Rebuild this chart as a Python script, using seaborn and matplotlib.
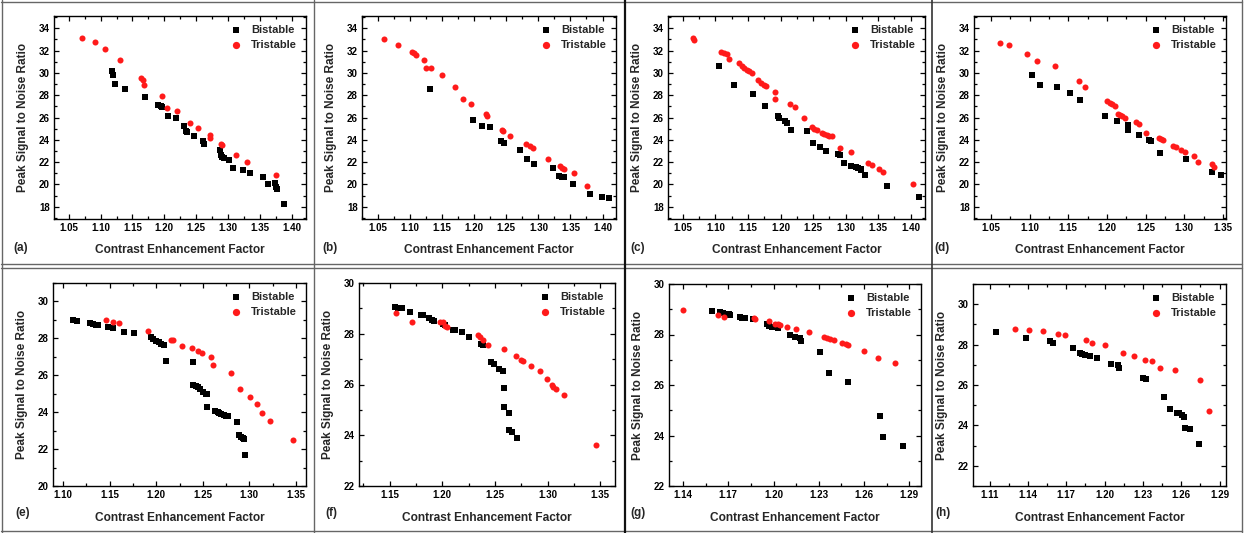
import numpy as np
import pandas as pd
import matplotlib
matplotlib.use("Agg")
import matplotlib.pyplot as plt
from matplotlib.lines import Line2D
from matplotlib.ticker import MultipleLocator
import seaborn as sns

sns.set_theme(style="ticks")
plt.rcParams["font.family"] = ["Liberation Sans", "DejaVu Sans"]
plt.rcParams["font.weight"] = "bold"

# ---- data: (Contrast Enhancement Factor, Peak Signal to Noise Ratio) ----
a_bi_x = [1.118, 1.120, 1.122, 1.139, 1.170, 1.190, 1.194, 1.196, 1.206, 1.218, 1.231, 1.234, 1.236,
          1.246, 1.260, 1.262, 1.287, 1.288, 1.290, 1.293, 1.301, 1.308, 1.324, 1.334, 1.354, 1.362,
          1.373, 1.375, 1.377, 1.387]
a_bi_y = [30.15, 29.85, 29.0, 28.6, 27.85, 27.1, 27.0, 26.9, 26.15, 26.0, 25.2, 24.8, 24.7,
          24.35, 23.85, 23.6, 23.05, 22.6, 22.5, 22.4, 22.2, 21.5, 21.3, 21.0, 20.7, 20.0,
          20.1, 19.75, 19.55, 18.25]
a_tri_x = [1.071, 1.091, 1.107, 1.131, 1.163, 1.166, 1.168, 1.197, 1.204, 1.220, 1.240, 1.253,
           1.271, 1.272, 1.288, 1.291, 1.313, 1.330, 1.375]
a_tri_y = [33.1, 32.75, 32.1, 31.2, 29.55, 29.4, 28.9, 27.9, 26.85, 26.6, 25.55, 25.05,
           24.45, 24.15, 23.6, 23.5, 22.65, 22.0, 20.85]

b_bi_x = [1.131, 1.198, 1.212, 1.224, 1.242, 1.247, 1.271, 1.283, 1.293, 1.323, 1.332, 1.337,
          1.340, 1.354, 1.380, 1.399, 1.410]
b_bi_y = [28.55, 25.8, 25.2, 25.15, 23.85, 23.75, 23.1, 22.3, 21.8, 21.45, 20.75, 20.7,
          20.65, 20.0, 19.1, 18.9, 18.75]
b_tri_x = [1.060, 1.081, 1.103, 1.106, 1.109, 1.122, 1.125, 1.133, 1.150, 1.170, 1.182, 1.195,
           1.218, 1.220, 1.244, 1.245, 1.255, 1.281, 1.287, 1.291, 1.315, 1.333, 1.337, 1.340,
           1.356, 1.376]
b_tri_y = [33.05, 32.5, 31.9, 31.75, 31.6, 31.15, 30.45, 30.4, 29.8, 28.75, 27.65, 27.2,
           26.3, 26.15, 24.9, 24.75, 24.35, 23.6, 23.45, 23.3, 22.3, 21.65, 21.5, 21.4,
           21.0, 19.9]

c_bi_x = [1.105, 1.128, 1.157, 1.176, 1.196, 1.198, 1.207, 1.210, 1.216, 1.240, 1.250, 1.260,
          1.270, 1.288, 1.292, 1.297, 1.308, 1.316, 1.319, 1.323, 1.324, 1.330, 1.363, 1.413]
c_bi_y = [30.6, 28.9, 28.15, 27.05, 26.15, 26.0, 25.65, 25.55, 24.9, 24.8, 23.75, 23.4,
          23.0, 22.7, 22.6, 21.9, 21.65, 21.55, 21.5, 21.4, 21.25, 20.85, 19.9, 18.9]
c_tri_x = [1.065, 1.067, 1.109, 1.113, 1.117, 1.121, 1.136, 1.140, 1.144, 1.149, 1.152, 1.156,
           1.166, 1.170, 1.174, 1.177, 1.191, 1.191, 1.214, 1.222, 1.236, 1.249, 1.252, 1.256,
           1.263, 1.267, 1.271, 1.275, 1.279, 1.292, 1.308, 1.335, 1.341, 1.352, 1.358, 1.404]
c_tri_y = [33.1, 32.95, 31.85, 31.8, 31.7, 31.25, 30.85, 30.6, 30.45, 30.25, 30.15, 29.95,
           29.35, 29.05, 28.9, 28.8, 28.3, 27.65, 27.2, 26.95, 26.0, 25.15, 25.0, 24.9,
           24.65, 24.5, 24.4, 24.3, 24.3, 23.3, 22.95, 21.9, 21.75, 21.4, 21.15, 20.0]

d_bi_x = [1.103, 1.113, 1.135, 1.152, 1.165, 1.197, 1.213, 1.227, 1.227, 1.242, 1.254, 1.257,
          1.269, 1.302, 1.336, 1.347]
d_bi_y = [29.85, 28.9, 28.75, 28.2, 27.6, 26.1, 25.7, 25.3, 24.85, 24.4, 23.95, 23.85,
          22.8, 22.3, 21.1, 20.85]
d_tri_x = [1.062, 1.073, 1.096, 1.110, 1.133, 1.164, 1.172, 1.200, 1.204, 1.207, 1.210, 1.214,
           1.217, 1.220, 1.223, 1.237, 1.241, 1.251, 1.267, 1.270, 1.273, 1.285, 1.289, 1.296,
           1.301, 1.313, 1.318, 1.336, 1.338]
d_tri_y = [32.65, 32.47, 31.7, 31.07, 30.6, 29.3, 28.7, 27.45, 27.3, 27.2, 27.0, 26.35,
           26.2, 26.13, 26.0, 25.6, 25.4, 24.65, 24.15, 24.1, 23.95, 23.45, 23.4, 23.05,
           22.95, 22.55, 22.05, 21.8, 21.55]

e_bi_x = [1.110, 1.115, 1.129, 1.132, 1.135, 1.137, 1.148, 1.154, 1.165, 1.176, 1.194, 1.197,
          1.200, 1.2025, 1.205, 1.208, 1.211, 1.239, 1.240, 1.2425, 1.245, 1.247, 1.250, 1.253,
          1.255, 1.255, 1.263, 1.266, 1.268, 1.270, 1.273, 1.275, 1.277, 1.287, 1.289, 1.291,
          1.293, 1.294, 1.295]
e_bi_y = [28.99, 28.95, 28.83, 28.8, 28.74, 28.7, 28.6, 28.55, 28.35, 28.28, 28.06, 27.97,
          27.88, 27.79, 27.72, 27.65, 26.79, 26.74, 25.5, 25.41, 25.34, 25.23, 25.1, 25.0,
          24.97, 24.26, 24.06, 24.0, 23.95, 23.9, 23.84, 23.8, 23.77, 23.46, 22.75, 22.66,
          22.6, 22.55, 21.7]
e_tri_x = [1.146, 1.154, 1.160, 1.191, 1.216, 1.218, 1.228, 1.238, 1.245, 1.249, 1.259, 1.261,
           1.280, 1.290, 1.301, 1.308, 1.314, 1.322, 1.347]
e_tri_y = [29.02, 28.9, 28.84, 28.42, 27.93, 27.9, 27.6, 27.48, 27.3, 27.22, 27.0, 26.56,
           26.14, 25.27, 24.84, 24.44, 23.97, 23.5, 22.47]

f_bi_x = [1.1554, 1.158, 1.1619, 1.169, 1.1795, 1.1817, 1.1875, 1.1903, 1.1919, 1.2008, 1.2024,
          1.2103, 1.2125, 1.2189, 1.2256, 1.2367, 1.2389, 1.2462, 1.249, 1.2538, 1.2573, 1.2589,
          1.2586, 1.2637, 1.2637, 1.2659, 1.2706]
f_bi_y = [29.07, 29.03, 29.0, 28.87, 28.73, 28.72, 28.63, 28.54, 28.52, 28.4, 28.35,
          28.13, 28.13, 28.07, 27.87, 27.58, 27.54, 26.9, 26.81, 26.63, 26.52, 25.86,
          25.13, 24.89, 24.2, 24.14, 23.9]
f_tri_x = [1.1557, 1.1713, 1.1976, 1.2003, 1.203, 1.205, 1.2341, 1.2363, 1.2389, 1.243, 1.2589,
           1.270, 1.2744, 1.277, 1.284, 1.2929, 1.2998, 1.304, 1.3056, 1.3078, 1.316, 1.3459]
f_tri_y = [28.8, 28.48, 28.48, 28.45, 28.3, 28.25, 27.94, 27.87, 27.74, 27.55, 27.38,
           27.12, 26.97, 26.94, 26.72, 26.52, 26.22, 25.97, 25.89, 25.82, 25.6, 23.61]

g_bi_x = [1.1591, 1.1647, 1.1663, 1.1703, 1.1714, 1.1776, 1.1794, 1.1811, 1.1861, 1.1957, 1.1973,
          1.1991, 1.2009, 1.2029, 1.2108, 1.2142, 1.2175, 1.2182, 1.2306, 1.2369, 1.2494, 1.2706,
          1.2724, 1.2858]
g_bi_y = [28.93, 28.88, 28.84, 28.8, 28.79, 28.68, 28.67, 28.67, 28.61, 28.4, 28.35,
          28.31, 28.29, 28.24, 28.0, 27.9, 27.87, 27.76, 27.31, 26.48, 26.11, 24.77,
          23.93, 23.59]
g_tri_x = [1.140, 1.1629, 1.1672, 1.1868, 1.188, 1.1973, 1.2011, 1.2029, 1.2045, 1.209, 1.2151,
           1.2236, 1.2337, 1.2355, 1.2373, 1.240, 1.2456, 1.2479, 1.2494, 1.2602, 1.2692, 1.2802]
g_tri_y = [28.96, 28.79, 28.71, 28.64, 28.63, 28.53, 28.43, 28.4, 28.37, 28.31, 28.23,
           28.09, 27.9, 27.87, 27.83, 27.77, 27.65, 27.63, 27.59, 27.35, 27.08, 26.87]

h_bi_x = [1.115, 1.1388, 1.1575, 1.160, 1.1754, 1.1804, 1.1826, 1.185, 1.1889, 1.1939, 1.205,
          1.2105, 1.211, 1.2297, 1.2324, 1.2461, 1.2514, 1.2564, 1.2585, 1.2606, 1.2622, 1.2627,
          1.2665, 1.2739]
h_bi_y = [28.63, 28.35, 28.2, 28.1, 27.85, 27.6, 27.55, 27.5, 27.46, 27.36, 27.03,
          26.97, 26.84, 26.37, 26.32, 25.41, 24.83, 24.62, 24.59, 24.5, 24.43, 23.88,
          23.8, 23.07]
h_tri_x = [1.130, 1.1409, 1.1517, 1.1636, 1.1689, 1.1852, 1.1905, 1.200, 1.2142, 1.2227, 1.2319,
           1.2367, 1.2432, 1.2551, 1.2749, 1.2818]
h_tri_y = [28.78, 28.73, 28.68, 28.51, 28.48, 28.22, 28.07, 27.97, 27.59, 27.44, 27.24,
           27.19, 26.86, 26.72, 26.24, 24.72]

panel_tags = ["(a)", "(b)", "(c)", "(d)", "(e)", "(f)", "(g)", "(h)"]
series_names = ["Bistable", "Tristable"]
x_label = "Contrast Enhancement Factor"
y_label = "Peak Signal to Noise Ratio"

# x ticks / limits per panel
xticks_top = [1.05, 1.10, 1.15, 1.20, 1.25, 1.30, 1.35, 1.40]
xticks_d = [1.05, 1.10, 1.15, 1.20, 1.25, 1.30, 1.35]
xticks_e = [1.10, 1.15, 1.20, 1.25, 1.30, 1.35]
xticks_f = [1.15, 1.20, 1.25, 1.30, 1.35]
xticks_gh = [1.11, 1.14, 1.17, 1.20, 1.23, 1.26, 1.29]

panels = [
    dict(bi=(a_bi_x, a_bi_y), tri=(a_tri_x, a_tri_y), xlim=(1.027, 1.422), ylim=(16.9, 35.1),
         xt=xticks_top, xminor=0.025, yt=[18, 20, 22, 24, 26, 28, 30, 32, 34], box=(54, 16, 306, 219)),
    dict(bi=(b_bi_x, b_bi_y), tri=(b_tri_x, b_tri_y), xlim=(1.025, 1.421), ylim=(16.9, 35.1),
         xt=xticks_top, xminor=0.025, yt=[18, 20, 22, 24, 26, 28, 30, 32, 34], box=(362, 16, 616, 219)),
    dict(bi=(c_bi_x, c_bi_y), tri=(c_tri_x, c_tri_y), xlim=(1.027, 1.422), ylim=(16.9, 35.1),
         xt=xticks_top, xminor=0.025, yt=[18, 20, 22, 24, 26, 28, 30, 32, 34], box=(668, 16, 925, 219)),
    dict(bi=(d_bi_x, d_bi_y), tri=(d_tri_x, d_tri_y), xlim=(1.028, 1.354), ylim=(16.9, 35.1),
         xt=xticks_d, xminor=0.025, yt=[18, 20, 22, 24, 26, 28, 30, 32, 34], box=(974, 16, 1226, 219)),
    dict(bi=(e_bi_x, e_bi_y), tri=(e_tri_x, e_tri_y), xlim=(1.089, 1.361), ylim=(20, 31),
         xt=xticks_e, xminor=0.025, yt=[20, 22, 24, 26, 28, 30], box=(53, 283, 306, 486)),
    dict(bi=(f_bi_x, f_bi_y), tri=(f_tri_x, f_tri_y), xlim=(1.121, 1.364), ylim=(22, 30),
         xt=xticks_f, xminor=0.025, yt=[22, 24, 26, 28, 30], box=(359, 283, 615, 486)),
    dict(bi=(g_bi_x, g_bi_y), tri=(g_tri_x, g_tri_y), xlim=(1.1307, 1.2977), ylim=(22, 30),
         xt=xticks_gh[1:], xminor=0.015, yt=[22, 24, 26, 28, 30], box=(669, 284, 921, 486)),
    dict(bi=(h_bi_x, h_bi_y), tri=(h_tri_x, h_tri_y), xlim=(1.097, 1.295), ylim=(21, 31),
         xt=xticks_gh, xminor=0.015, yt=[22, 24, 26, 28, 30], box=(973, 284, 1226, 486)),
]

W, H = 1244, 533
fig = plt.figure(figsize=(W / 100, H / 100), dpi=100)
fig.patch.set_facecolor("white")

tag_pos = [(13, 248), (322, 248), (630, 248), (934, 248),
           (15, 513), (325, 513), (630, 513), (935, 513)]

for i, p in enumerate(panels):
    l, t, r, b = p["box"]
    ax = fig.add_axes([l / W, 1 - b / H, (r - l) / W, (b - t) / H])
    bi = pd.DataFrame({"x": p["bi"][0], "y": p["bi"][1]})
    tri = pd.DataFrame({"x": p["tri"][0], "y": p["tri"][1]})
    sns.scatterplot(data=bi, x="x", y="y", ax=ax, marker="s", color="black", s=17,
                    linewidth=0, label=series_names[0], zorder=3)
    sns.scatterplot(data=tri, x="x", y="y", ax=ax, marker="o", color="#ff1a1a", s=19,
                    linewidth=0, label=series_names[1], zorder=3)
    ax.set_xlim(*p["xlim"])
    ax.set_ylim(*p["ylim"])
    ax.set_xticks(p["xt"])
    ax.set_xticklabels([f"{v:.2f}" for v in p["xt"]])
    ax.xaxis.set_minor_locator(MultipleLocator(p["xminor"]))
    ax.set_yticks(p["yt"])
    ax.yaxis.set_minor_locator(MultipleLocator(1))
    ax.tick_params(which="both", direction="in", top=True, right=True, width=0.9,
                   colors="black", labelsize=7.0, pad=3)
    ax.tick_params(which="major", length=3.5)
    ax.tick_params(which="minor", length=2)
    for lab in ax.get_xticklabels() + ax.get_yticklabels():
        lab.set_fontweight("bold")
    for sp in ax.spines.values():
        sp.set_linewidth(1.0)
        sp.set_color("black")
    ax.set_xlabel(x_label, fontsize=8.6, fontweight="bold")
    ax.set_ylabel(y_label, fontsize=8.5, fontweight="bold")
    xl_y = (250 if i < 4 else 518) - b
    ax.xaxis.set_label_coords(0.5, -xl_y / (b - t))
    ax.xaxis.label.set_va("center")
    ax.yaxis.set_label_coords(-31 / (r - l), 0.5)
    ax.yaxis.label.set_va("center")
    leg = ax.legend(loc="upper right", frameon=False, fontsize=8, handletextpad=0.9,
                    labelspacing=0.45, handlelength=1.0, borderaxespad=0.4, markerscale=1.2)
    for txt in leg.get_texts():
        txt.set_fontweight("bold")
    tx, ty = tag_pos[i]
    fig.text(tx / W, 1 - ty / H, panel_tags[i], fontsize=8.5, fontweight="bold",
             ha="left", va="center")

# panel frames
def hline(y, x0, x1, color="#666666", lw=1.0):
    fig.add_artist(Line2D([x0 / W, x1 / W], [1 - y / H, 1 - y / H], color=color, lw=lw))

def vline(x, y0, y1, color="#666666", lw=1.0):
    fig.add_artist(Line2D([x / W, x / W], [1 - y0 / H, 1 - y1 / H], color=color, lw=lw))

hline(2, 1, 1242)
hline(264, 1, 1242)
hline(268, 1, 1242)
hline(531, 1, 1242)
vline(1.5, 0, 533)
vline(1241.5, 0, 533)
vline(314, 0, 533)
vline(625, 0, 533, color="#111111", lw=1.6)
vline(932, 0, 533, color="#333333", lw=1.2)

fig.savefig("out.png", dpi=100, facecolor="white")
